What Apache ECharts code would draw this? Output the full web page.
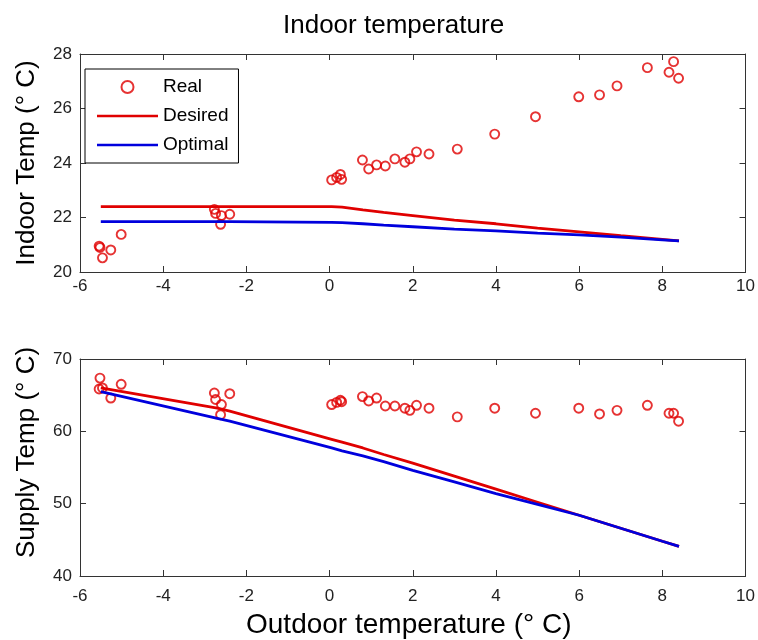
<!DOCTYPE html>
<html>
<head>
<meta charset="utf-8">
<script src="https://cdn.jsdelivr.net/npm/echarts@6/dist/echarts.min.js"></script>
<style>html,body{margin:0;padding:0;background:#fff;}#c{width:758px;height:640px;}</style>
</head>
<body>
<div id="c"></div>
<script>
// ---- data ----
const outdoorX = [-5.54, -5.52, -5.46, -5.26, -5.01, -2.77, -2.74, -2.62, -2.60, -2.40,
  0.05, 0.17, 0.26, 0.29, 0.79, 0.94, 1.13, 1.34, 1.57, 1.81, 1.93, 2.09, 2.39, 3.07,
  3.97, 4.95, 5.99, 6.49, 6.91, 7.64, 8.16, 8.27, 8.39];
const indoorReal = [20.95, 20.9, 20.52, 20.81, 21.38, 22.3, 22.15, 21.75, 22.07, 22.12,
  23.38, 23.47, 23.58, 23.4, 24.11, 23.78, 23.93, 23.89, 24.15, 24.03, 24.15, 24.41, 24.33, 24.51,
  25.06, 25.7, 26.43, 26.5, 26.83, 27.5, 27.33, 27.72, 27.11];
const supplyReal = [65.85, 67.36, 66.0, 64.6, 66.5, 65.3, 64.4, 62.3, 63.7, 65.2,
  63.7, 64.0, 64.3, 64.1, 64.8, 64.2, 64.6, 63.5, 63.5, 63.2, 62.9, 63.6, 63.2, 62.0,
  63.2, 62.5, 63.2, 62.4, 62.9, 63.6, 62.5, 62.5, 61.4];

const lineX = [-5.5, -2.7, -2.4, 0.05, 0.3, 0.8, 1.3, 2, 3, 4, 5, 6, 7, 8, 8.4];
const indoorDesired = [22.4, 22.4, 22.4, 22.4, 22.38, 22.28, 22.19, 22.07, 21.9, 21.77, 21.61, 21.47, 21.33, 21.2, 21.14];
const indoorOptimal = [21.85, 21.85, 21.85, 21.82, 21.81, 21.77, 21.72, 21.66, 21.57, 21.51, 21.43, 21.36, 21.28, 21.18, 21.14];
const supplyDesired = [66.0, 63.2, 62.8, 58.9, 58.5, 57.7, 56.8, 55.6, 53.8, 52.0, 50.2, 48.4, 46.6, 44.8, 44.1];
const supplyOptimal = [65.5, 61.8, 61.4, 57.7, 57.3, 56.6, 55.8, 54.6, 53.0, 51.4, 49.9, 48.4, 46.6, 44.8, 44.1];

const xTicks = {min: -6, max: 10, interval: 2};
const indoorTicks = {min: 20, max: 28, interval: 2};
const supplyTicks = {min: 40, max: 70, interval: 10};

const seriesNames = ['Real', 'Desired', 'Optimal'];
const titleText = 'Indoor temperature';
const xName = 'Outdoor temperature (° C)';
const yNames = ['Indoor Temp (° C)', 'Supply Temp (° C)'];

// ---- styling ----
const FONT = "'Liberation Sans', Arial, sans-serif";
const RED = '#e00000';
const BLUE = '#0000dd';
const AX = '#333333';
const LINE_ICON = 'path://M0,0H61V2.6H0Z';
const pairs = (xs, ys) => xs.map((x, i) => [x, ys[i]]);

function xAxes(gridIndex, withName, labelMargin) {
  const base = {
    type: 'value', gridIndex, min: xTicks.min, max: xTicks.max, interval: xTicks.interval,
    splitLine: {show: false},
    axisLine: {show: true, onZero: false, lineStyle: {color: AX, width: 1}},
    axisTick: {show: true, inside: true, length: 6, lineStyle: {color: AX}},
  };
  return [
    Object.assign({}, base, {
      position: 'bottom',
      axisLabel: {show: true, color: '#222', fontFamily: FONT, fontSize: 17, margin: labelMargin},
      name: withName ? xName : '', nameLocation: 'middle', nameGap: 35,
      nameTextStyle: {color: '#000', fontFamily: FONT, fontSize: 28, padding: [0, 8, 0, 0]}
    }),
    Object.assign({}, base, {position: 'top', axisLabel: {show: false}})
  ];
}
function yAxes(gridIndex, ticks, name, namePad) {
  const base = {
    type: 'value', gridIndex, min: ticks.min, max: ticks.max, interval: ticks.interval,
    splitLine: {show: false},
    axisLine: {show: true, onZero: false, lineStyle: {color: AX, width: 1}},
    axisTick: {show: true, inside: true, length: 6, lineStyle: {color: AX}},
  };
  return [
    Object.assign({}, base, {
      position: 'left',
      axisLabel: {show: true, color: '#222', fontFamily: FONT, fontSize: 17, margin: 8},
      name, nameLocation: 'middle', nameGap: 40,
      nameTextStyle: {color: '#000', fontFamily: FONT, fontSize: 26, padding: namePad}
    }),
    Object.assign({}, base, {position: 'right', axisLabel: {show: false}})
  ];
}

const scatterStyle = {color: 'rgba(0,0,0,0)', borderColor: RED, borderWidth: 1.9};

const option = {
  animation: false,
  backgroundColor: '#ffffff',
  title: {
    text: titleText, left: 283, top: 13, padding: 0,
    textStyle: {color: '#000', fontFamily: FONT, fontSize: 26, fontWeight: 'normal'}
  },
  legend: {
    orient: 'vertical', left: 85, top: 69,
    data: [
      {name: seriesNames[0]},
      {name: seriesNames[1], icon: LINE_ICON, itemStyle: {color: RED}},
      {name: seriesNames[2], icon: LINE_ICON, itemStyle: {color: BLUE}}
    ],
    itemWidth: 61, itemHeight: 12, itemGap: 9, itemTextGap: 10,
    padding: [8, 10, 8, 12],
    borderColor: '#000', borderWidth: 1, backgroundColor: '#fff',
    textStyle: {color: '#000', fontFamily: FONT, fontSize: 19, lineHeight: 20},
    selectedMode: false
  },
  grid: [
    {left: 80, right: 12, top: 54, height: 218, containLabel: false},
    {left: 80, right: 12, top: 359, height: 219, containLabel: false}
  ],
  xAxis: [...xAxes(0, false, 6), ...xAxes(1, true, 12)],
  yAxis: [...yAxes(0, indoorTicks, yNames[0], 0), ...yAxes(1, supplyTicks, yNames[1], [0, 0, 0, 30])],
  series: [
    {name: seriesNames[0], type: 'scatter', xAxisIndex: 0, yAxisIndex: 0, symbol: 'circle', symbolSize: 9,
      itemStyle: scatterStyle, data: pairs(outdoorX, indoorReal), z: 2},
    {name: seriesNames[1], type: 'line', xAxisIndex: 0, yAxisIndex: 0, showSymbol: false, symbol: 'none',
      lineStyle: {color: RED, width: 2.8}, itemStyle: {color: RED}, data: pairs(lineX, indoorDesired), z: 3},
    {name: seriesNames[2], type: 'line', xAxisIndex: 0, yAxisIndex: 0, showSymbol: false, symbol: 'none',
      lineStyle: {color: BLUE, width: 2.8}, itemStyle: {color: BLUE}, data: pairs(lineX, indoorOptimal), z: 4},
    {name: seriesNames[0], type: 'scatter', xAxisIndex: 2, yAxisIndex: 2, symbol: 'circle', symbolSize: 9,
      itemStyle: scatterStyle, data: pairs(outdoorX, supplyReal), z: 2},
    {name: seriesNames[1], type: 'line', xAxisIndex: 2, yAxisIndex: 2, showSymbol: false, symbol: 'none',
      lineStyle: {color: RED, width: 2.8}, itemStyle: {color: RED}, data: pairs(lineX, supplyDesired), z: 3},
    {name: seriesNames[2], type: 'line', xAxisIndex: 2, yAxisIndex: 2, showSymbol: false, symbol: 'none',
      lineStyle: {color: BLUE, width: 2.8}, itemStyle: {color: BLUE}, data: pairs(lineX, supplyOptimal), z: 4}
  ]
};

const chart = echarts.init(document.getElementById('c'), null, {renderer: 'canvas'});
chart.setOption(option);
</script>
</body>
</html>
